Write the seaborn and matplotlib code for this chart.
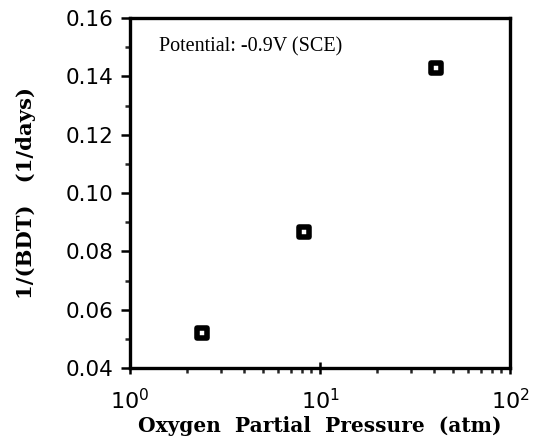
import matplotlib
matplotlib.use("Agg")
import matplotlib.pyplot as plt
import seaborn as sns
import pandas as pd
from matplotlib.ticker import LogLocator, MultipleLocator, FixedLocator, NullFormatter

# data
pressure_atm = [2.38, 8.26, 41.0]
inv_bdt = [0.0519, 0.0866, 0.1427]
x_label = "Oxygen  Partial  Pressure  (atm)"
y_label = "1/(BDT)   (1/days)"
note = "Potential: -0.9V (SCE)"
y_ticks = [0.04, 0.06, 0.08, 0.10, 0.12, 0.14, 0.16]

sns.set_style("ticks")
plt.rcParams["font.family"] = ["DejaVu Sans"]
plt.rcParams["mathtext.fontset"] = "dejavusans"
plt.rcParams["text.color"] = "black"
plt.rcParams["axes.labelcolor"] = "black"

df = pd.DataFrame({"p": pressure_atm, "r": inv_bdt})

fig = plt.figure(figsize=(5.39, 4.44), dpi=100)
ax = fig.add_axes([0.2412, 0.171, 0.7050, 0.7885])

sns.scatterplot(data=df, x="p", y="r", ax=ax, marker="s", s=47,
                facecolor="white", edgecolor="black", linewidth=4, zorder=3)

ax.set_xscale("log")
ax.set_xlim(1, 100)
ax.set_ylim(0.04, 0.16)
ax.xaxis.set_major_locator(LogLocator(base=10, numticks=10))
ax.xaxis.set_minor_locator(LogLocator(base=10, subs=range(2, 10), numticks=20))
ax.xaxis.set_minor_formatter(NullFormatter())
ax.yaxis.set_major_locator(FixedLocator(y_ticks))
ax.yaxis.set_minor_locator(MultipleLocator(0.01))
ax.set_yticklabels([f"{v:.2f}" for v in y_ticks])

for side in ["left", "right", "top", "bottom"]:
    ax.spines[side].set_visible(True)
    ax.spines[side].set_linewidth(2.4)
    ax.spines[side].set_color("black")

ax.tick_params(axis="y", which="major", direction="out", length=6.5, width=1.8,
               labelsize=15.5, pad=5.5, colors="black")
ax.tick_params(axis="y", which="minor", direction="out", length=3.6, width=1.8)
ax.tick_params(axis="x", which="major", direction="inout", length=9, width=1.8,
               labelsize=16, pad=10, colors="black")
ax.tick_params(axis="x", which="minor", direction="out", length=3.5, width=1.8)

ax.set_xlabel(x_label, family="DejaVu Serif", weight="bold", fontsize=14.5, labelpad=2)
ax.set_ylabel(y_label, family="DejaVu Serif", weight="bold", fontsize=15.2, labelpad=21)

ax.text(0.0765, 0.904, note, transform=ax.transAxes, family="Liberation Serif",
        fontsize=14.5, ha="left", va="baseline")

fig.savefig("out.png", dpi=100, facecolor="white")
